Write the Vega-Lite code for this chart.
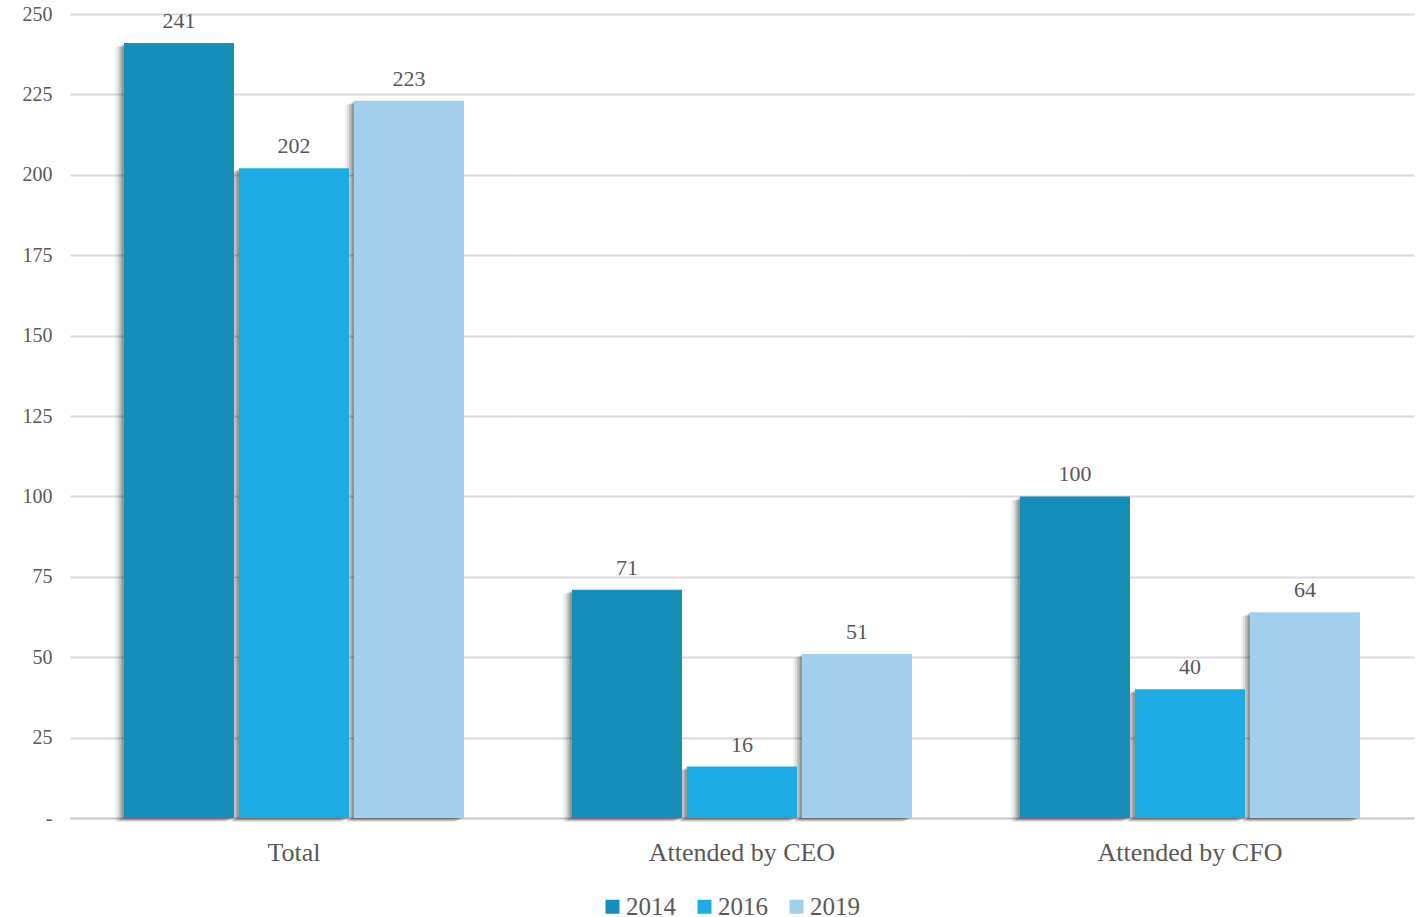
{
  "$schema": "https://vega.github.io/schema/vega-lite/v6.json",
  "padding": {"left": 18, "top": 4, "right": 13, "bottom": 5},
  "spacing": 0,
  "config": {
    "view": {"stroke": null},
    "font": "'Liberation Serif', 'DejaVu Serif', serif"
  },
  "data": {
    "values": [
      {"category": "Total", "year": "2014", "value": 241},
      {"category": "Total", "year": "2016", "value": 202},
      {"category": "Total", "year": "2019", "value": 223},
      {"category": "Attended by CEO", "year": "2014", "value": 71},
      {"category": "Attended by CEO", "year": "2016", "value": 16},
      {"category": "Attended by CEO", "year": "2019", "value": 51},
      {"category": "Attended by CFO", "year": "2014", "value": 100},
      {"category": "Attended by CFO", "year": "2016", "value": 40},
      {"category": "Attended by CFO", "year": "2019", "value": 64}
    ]
  },
  "facet": {
    "column": {
      "field": "category",
      "type": "nominal",
      "sort": ["Total", "Attended by CEO", "Attended by CFO"],
      "title": null,
      "header": {
        "labelOrient": "bottom",
        "labelFont": "'Liberation Serif', serif",
        "labelFontSize": 26,
        "labelColor": "#595959",
        "labelPadding": 18
      }
    }
  },
  "resolve": {"scale": {"x": "independent"}},
  "spec": {
    "width": 448,
    "height": 804,
    "encoding": {
      "x": {
        "field": "year",
        "type": "nominal",
        "axis": null,
        "scale": {"paddingInner": 0.0435, "paddingOuter": 0.47}
      },
      "y": {
        "field": "value",
        "type": "quantitative",
        "scale": {"domain": [0, 250], "nice": false},
        "axis": {
          "title": null,
          "values": [0, 25, 50, 75, 100, 125, 150, 175, 200, 225, 250],
          "labelExpr": "datum.value === 0 ? '-' : datum.label",
          "domain": false,
          "ticks": false,
          "labelPadding": 18,
          "minExtent": 52,
          "maxExtent": 52,
          "labelFont": "'Liberation Serif', serif",
          "labelFontSize": 20,
          "labelColor": "#595959",
          "gridColor": {"condition": {"test": "datum.value === 0", "value": "#c4c4c4"}, "value": "#d9d9d9"},
          "gridWidth": 2
        }
      }
    },
    "layer": [
      {"mark": {"type": "bar", "color": "#000000", "opacity": 0.06, "xOffset": -9, "yOffset": 4}},
      {"mark": {"type": "bar", "color": "#000000", "opacity": 0.08, "xOffset": -7, "yOffset": 3.5}},
      {"mark": {"type": "bar", "color": "#000000", "opacity": 0.1, "xOffset": -5, "yOffset": 3}},
      {"mark": {"type": "bar", "color": "#000000", "opacity": 0.12, "xOffset": -3.5, "yOffset": 2}},
      {"mark": {"type": "bar", "color": "#000000", "opacity": 0.14, "xOffset": -2, "yOffset": 1}},
      {
        "mark": {"type": "bar", "opacity": 1},
        "encoding": {
          "color": {
            "field": "year",
            "type": "nominal",
            "scale": {"domain": ["2014", "2016", "2019"], "range": ["#168dbb", "#1eabe3", "#a3cfed"]},
            "legend": {
              "title": null,
              "orient": "none",
              "direction": "horizontal",
              "legendX": 530,
              "legendY": 880,
              "symbolType": "square",
              "symbolSize": 196,
              "symbolOpacity": 1,
              "symbolStrokeWidth": 0,
              "labelFont": "'Liberation Serif', serif",
              "labelFontSize": 25,
              "labelColor": "#595959",
              "labelOffset": 1,
              "columnPadding": 16
            }
          }
        }
      },
      {
        "mark": {"type": "text", "baseline": "alphabetic", "dy": -15, "font": "'Liberation Serif', serif", "fontSize": 22, "color": "#595959"},
        "encoding": {"text": {"field": "value", "type": "quantitative"}}
      }
    ]
  }
}
